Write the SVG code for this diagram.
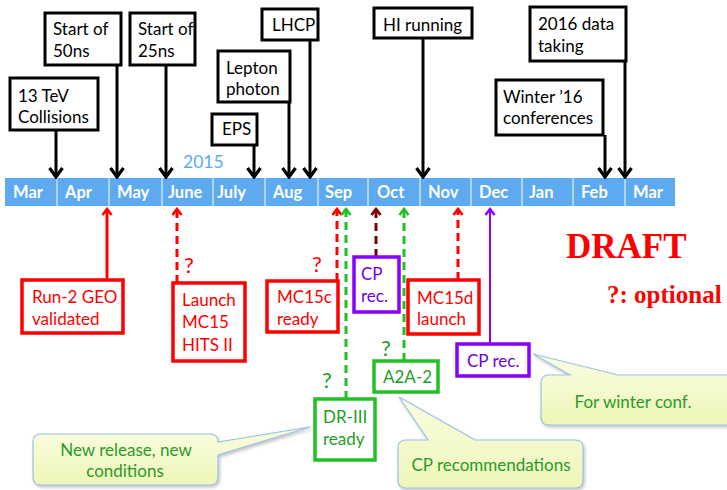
<svg xmlns="http://www.w3.org/2000/svg" width="727" height="490" viewBox="0 0 727 490">
  <defs>
    <style>
      .bar { fill: #5DAAF0; }
      .div { stroke: #FFFFFF; stroke-width: 1; }
      .mon { font-family: Lato, "Open Sans", "Liberation Sans", sans-serif; font-size: 16.5px; font-weight: bold; fill: #FFFFFF; }
      .yr { font-family: Lato, "Open Sans", "Liberation Sans", sans-serif; font-size: 17.5px; fill: #5DAAF0; }
      .t { font-family: Lato, "Open Sans", "Liberation Sans", sans-serif; font-size: 17px; }
      .blk { fill: #FFFFFF; stroke: #000000; stroke-width: 3; }
      .red { fill: #FFFFFF; stroke: #FF0000; stroke-width: 3.5; }
      .grn { fill: #FFFFFF; stroke: #22C022; stroke-width: 3.5; }
      .pur { fill: #FFFFFF; stroke: #8800FF; stroke-width: 3.5; }
      .tb { fill: #000000; }
      .tr { fill: #FF0000; }
      .tg { fill: #1E9E1E; }
      .tp { fill: #7000E0; }
      .q { font-family: Lato, "Open Sans", "Liberation Sans", sans-serif; font-size: 22px; }
      .ab { stroke: #000000; stroke-width: 3; fill: none; }
      .ar { stroke: #FF0000; stroke-width: 3; fill: none; }
      .ag { stroke: #22C022; stroke-width: 3; fill: none; }
      .ad { stroke: #7A0000; stroke-width: 3; fill: none; }
      .ap { stroke: #8800FF; stroke-width: 2; fill: none; }
      .dash { stroke-dasharray: 8 5; }
      .call { fill: url(#callFill); stroke: #9CC2E5; stroke-width: 1.2; filter: url(#shadow); }
      .ct { font-family: Lato, "Open Sans", "Liberation Sans", sans-serif; font-size: 17px; fill: #2A9A2A; text-anchor: middle; }
      .draft { font-family: "Liberation Serif", "Times New Roman", serif; font-weight: bold; fill: #FF0000; }
    </style>
    <linearGradient id="callFill" x1="0" y1="0" x2="0" y2="1">
      <stop offset="0" stop-color="#FAFDE2"/>
      <stop offset="1" stop-color="#EEF6B8"/>
    </linearGradient>
    <filter id="shadow" x="-10%" y="-20%" width="125%" height="150%">
      <feDropShadow dx="1.5" dy="2" stdDeviation="1.5" flood-color="#808080" flood-opacity="0.45"/>
    </filter>
    <!-- arrowheads drawn pointing along +x so orient="auto" follows the line -->
    <marker id="mBlk" viewBox="0 0 14 16" refX="12" refY="8" markerWidth="14" markerHeight="16" markerUnits="userSpaceOnUse" orient="auto">
      <path d="M3,1.5 L12,8 L3,14.5" fill="none" stroke="#000000" stroke-width="3.2"/>
    </marker>
    <marker id="mRed" viewBox="0 0 10 12" refX="8" refY="6" markerWidth="10" markerHeight="12" markerUnits="userSpaceOnUse" orient="auto">
      <path d="M2,1.5 L8,6 L2,10.5" fill="none" stroke="#FF0000" stroke-width="2.6"/>
    </marker>
    <marker id="mGrn" viewBox="0 0 10 12" refX="8" refY="6" markerWidth="10" markerHeight="12" markerUnits="userSpaceOnUse" orient="auto">
      <path d="M2,1.5 L8,6 L2,10.5" fill="none" stroke="#22C022" stroke-width="2.6"/>
    </marker>
    <marker id="mDrk" viewBox="0 0 10 12" refX="8" refY="6" markerWidth="10" markerHeight="12" markerUnits="userSpaceOnUse" orient="auto">
      <path d="M2,1.5 L8,6 L2,10.5" fill="none" stroke="#7A0000" stroke-width="2.6"/>
    </marker>
    <marker id="mPur" viewBox="0 0 10 12" refX="8" refY="6" markerWidth="10" markerHeight="12" markerUnits="userSpaceOnUse" orient="auto">
      <path d="M2,1.5 L8,6 L2,10.5" fill="none" stroke="#8800FF" stroke-width="2.4"/>
    </marker>
  </defs>

  <rect width="727" height="490" fill="#FFFFFF"/>

  <!-- month bar -->
  <g id="timeline">
    <rect class="bar" x="5" y="178" width="670" height="28"/>
    <g class="div">
      <line x1="57" y1="178" x2="57" y2="206"/>
      <line x1="109" y1="178" x2="109" y2="206"/>
      <line x1="162" y1="178" x2="162" y2="206"/>
      <line x1="213" y1="178" x2="213" y2="206"/>
      <line x1="265" y1="178" x2="265" y2="206"/>
      <line x1="318" y1="178" x2="318" y2="206"/>
      <line x1="368" y1="178" x2="368" y2="206"/>
      <line x1="420" y1="178" x2="420" y2="206"/>
      <line x1="471" y1="178" x2="471" y2="206"/>
      <line x1="522" y1="178" x2="522" y2="206"/>
      <line x1="573" y1="178" x2="573" y2="206"/>
      <line x1="625" y1="178" x2="625" y2="206"/>
    </g>
    <g class="mon">
      <text x="13" y="198">Mar</text>
      <text x="65" y="198">Apr</text>
      <text x="117" y="198">May</text>
      <text x="168" y="198">June</text>
      <text x="217" y="198">July</text>
      <text x="273" y="198">Aug</text>
      <text x="325" y="198">Sep</text>
      <text x="377" y="198">Oct</text>
      <text x="428" y="198">Nov</text>
      <text x="479" y="198">Dec</text>
      <text x="529" y="198">Jan</text>
      <text x="581" y="198">Feb</text>
      <text x="633" y="198">Mar</text>
    </g>
    <text class="yr" x="183" y="168">2015</text>
  </g>

  <!-- connectors -->
  <g id="connectors">
    <g class="ab">
      <line x1="56" y1="130" x2="56" y2="177" marker-end="url(#mBlk)"/>
      <line x1="117" y1="65" x2="117" y2="177" marker-end="url(#mBlk)"/>
      <line x1="166" y1="65" x2="166" y2="177" marker-end="url(#mBlk)"/>
      <line x1="254" y1="145" x2="254" y2="177" marker-end="url(#mBlk)"/>
      <line x1="289" y1="102" x2="289" y2="177" marker-end="url(#mBlk)"/>
      <line x1="310" y1="40" x2="310" y2="177" marker-end="url(#mBlk)"/>
      <line x1="423" y1="38" x2="423" y2="177" marker-end="url(#mBlk)"/>
      <line x1="605" y1="135" x2="605" y2="177" marker-end="url(#mBlk)"/>
      <line x1="625" y1="61" x2="625" y2="177" marker-end="url(#mBlk)"/>
    </g>
    <line class="ar" x1="107" y1="280" x2="107" y2="209" marker-end="url(#mRed)"/>
    <line class="ar dash" x1="177" y1="283" x2="177" y2="209" marker-end="url(#mRed)"/>
    <line class="ar dash" x1="337" y1="281" x2="337" y2="209" marker-end="url(#mRed)"/>
    <line class="ag dash" x1="346" y1="399" x2="346" y2="209" marker-end="url(#mGrn)"/>
    <line class="ad dash" x1="376" y1="257" x2="376" y2="209" marker-end="url(#mDrk)"/>
    <line class="ag dash" x1="404" y1="361" x2="404" y2="209" marker-end="url(#mGrn)"/>
    <line class="ar dash" x1="458" y1="280" x2="458" y2="209" marker-end="url(#mRed)"/>
    <line class="ap" x1="490" y1="344" x2="490" y2="209" marker-end="url(#mPur)"/>
  </g>

  <!-- milestones above the bar -->
  <g id="n-13tev">
    <rect class="blk" x="10" y="78" width="88" height="52"/>
    <text class="t tb" x="18" y="102">13 TeV</text>
    <text class="t tb" x="18" y="123">Collisions</text>
  </g>
  <g id="n-50ns">
    <rect class="blk" x="45" y="13" width="76" height="52"/>
    <text class="t tb" x="53" y="35">Start of</text>
    <text class="t tb" x="53" y="57">50ns</text>
  </g>
  <g id="n-25ns">
    <rect class="blk" x="130" y="13" width="65" height="52"/>
    <text class="t tb" x="138" y="35">Start of</text>
    <text class="t tb" x="138" y="57">25ns</text>
  </g>
  <g id="n-lepton">
    <rect class="blk" x="218" y="51" width="72" height="51"/>
    <text class="t tb" x="226" y="74">Lepton</text>
    <text class="t tb" x="226" y="95">photon</text>
  </g>
  <g id="n-eps">
    <rect class="blk" x="212" y="114" width="45" height="31"/>
    <text class="t tb" x="222" y="135">EPS</text>
  </g>
  <g id="n-lhcp">
    <rect class="blk" x="262" y="9" width="56" height="31"/>
    <text class="t tb" x="272" y="31">LHCP</text>
  </g>
  <g id="n-hi">
    <rect class="blk" x="374" y="8" width="98" height="30"/>
    <text class="t tb" x="383" y="31">HI running</text>
  </g>
  <g id="n-2016">
    <rect class="blk" x="530" y="7" width="96" height="54"/>
    <text class="t tb" x="538" y="30">2016 data</text>
    <text class="t tb" x="538" y="52">taking</text>
  </g>
  <g id="n-winter">
    <rect class="blk" x="496" y="80" width="107" height="55"/>
    <text class="t tb" x="503" y="103">Winter ’16</text>
    <text class="t tb" x="503" y="124">conferences</text>
  </g>

  <!-- milestones below the bar -->
  <g id="n-geo">
    <rect class="red" x="22" y="280" width="101" height="53"/>
    <text class="t tr" x="32" y="303">Run-2 GEO</text>
    <text class="t tr" x="32" y="325">validated</text>
  </g>
  <g id="n-mc15">
    <rect class="red" x="173" y="283" width="72" height="78"/>
    <text class="t tr" x="182" y="306">Launch</text>
    <text class="t tr" x="182" y="328">MC15</text>
    <text class="t tr" x="182" y="351">HITS II</text>
    <text class="q tr" x="184" y="273">?</text>
  </g>
  <g id="n-mc15c">
    <rect class="red" x="267" y="281" width="71" height="51"/>
    <text class="t tr" x="277" y="303">MC15c</text>
    <text class="t tr" x="277" y="325">ready</text>
    <text class="q tr" x="312" y="272">?</text>
  </g>
  <g id="n-cp1">
    <rect class="pur" x="354" y="257" width="45" height="55"/>
    <text class="t tp" x="361" y="280">CP</text>
    <text class="t tp" x="361" y="302">rec.</text>
  </g>
  <g id="n-mc15d">
    <rect class="red" x="408" y="280" width="71" height="54"/>
    <text class="t tr" x="417" y="304">MC15d</text>
    <text class="t tr" x="417" y="325">launch</text>
  </g>
  <g id="n-dr3">
    <rect class="grn" x="315" y="399" width="60" height="61"/>
    <text class="t tg" x="323" y="423">DR-III</text>
    <text class="t tg" x="323" y="445">ready</text>
    <text class="q tg" x="322" y="388">?</text>
  </g>
  <g id="n-a2a">
    <rect class="grn" x="374" y="361" width="64" height="31"/>
    <text class="t tg" x="383" y="383">A2A-2</text>
    <text class="q tg" x="381" y="356">?</text>
  </g>
  <g id="n-cp2">
    <rect class="pur" x="457" y="344" width="72" height="32"/>
    <text class="t tp" x="467" y="367">CP rec.</text>
  </g>

  <!-- notes -->
  <g id="c-release">
    <path class="call" d="M41,434 H210 Q218,434 218,442 L310,427 L218,455 V477 Q218,485 210,485 H41 Q33,485 33,477 V442 Q33,434 41,434 Z"/>
    <text class="ct" x="126" y="456">New release, new</text>
    <text class="ct" x="125" y="477">conditions</text>
  </g>
  <g id="c-cp">
    <path class="call" d="M406,440 H428 L399,397 L475,440 H575 Q583,440 583,448 V480 Q583,488 575,488 H406 Q398,488 398,480 V448 Q398,440 406,440 Z"/>
    <text class="ct" x="491" y="471">CP recommendations</text>
  </g>
  <g id="c-winter">
    <path class="call" d="M549,375 H570 L533,354 L618,375 H735 V425 H549 Q541,425 541,417 V383 Q541,375 549,375 Z"/>
    <text class="ct" x="633" y="408">For winter conf.</text>
  </g>

  <g id="legend">
    <text class="draft" x="566" y="258" font-size="35">DRAFT</text>
    <text class="draft" x="607" y="303" font-size="25">?: optional</text>
  </g>
</svg>
